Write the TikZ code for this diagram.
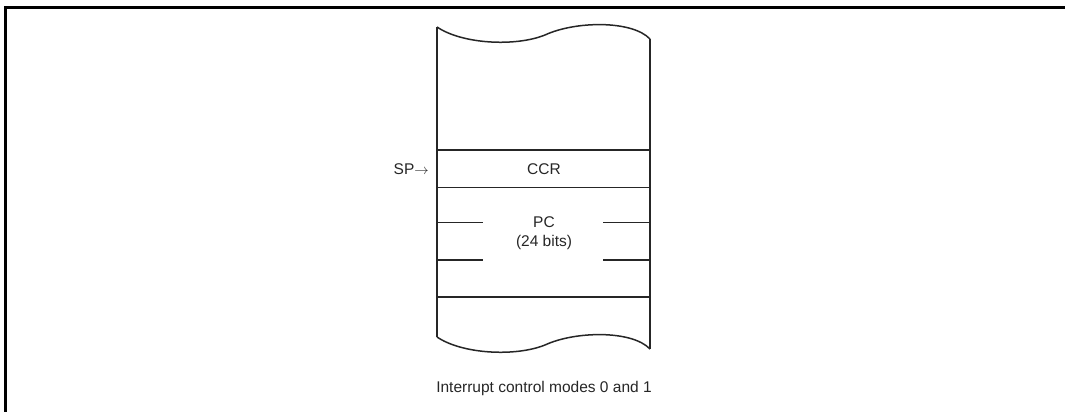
\documentclass[tikz,border=0pt]{standalone}
\usepackage{fontspec}
\setmainfont{Liberation Sans}
\begin{document}
\begin{tikzpicture}[x=1pt,y=-1pt,
  frameline/.style={line width=3pt},
  boxline/.style={line width=1.5pt, draw=black!85},
  lbl/.style={font=\fontsize{15.5}{18}\selectfont, inner sep=0pt, text=black!85}]
\useasboundingbox (0,0) rectangle (1065,412);
% frame
\draw[frameline] (5,412) -- (5,7.7) -- (1065,7.7);
% stack body
\draw[boxline] (650,39) -- (650,349);
\draw[boxline] (437,27) -- (437,337);
\draw[boxline] (437,27) .. controls (462,44) and (515,47) .. (545,35)
  .. controls (575,21) and (632,20) .. (650,39);
\draw[boxline] (437,337) .. controls (462,354) and (515,357) .. (545,345)
  .. controls (575,331) and (632,330) .. (650,349);
% horizontal lines
\draw[boxline] (437,150) -- (650,150);
\draw[boxline] (437,187.5) -- (650,187.5);
\draw[boxline] (437,297) -- (650,297);
\draw[boxline] (437,222.5) -- (483,222.5);
\draw[boxline] (603,222.5) -- (650,222.5);
\draw[boxline] (437,260) -- (483,260);
\draw[boxline] (603,260) -- (650,260);
% labels
\node[lbl] (ccr) at (544,169) {CCR};
\node[lbl,anchor=east] (sp) at (429,169) {SP$\rightarrow$};
\node[lbl] (pc) at (544,222) {PC};
\node[lbl] (bits) at (544,242) {(24 bits)};
\node[lbl] (cap) at (544,388) {Interrupt control modes 0 and 1};
\end{tikzpicture}
\end{document}
